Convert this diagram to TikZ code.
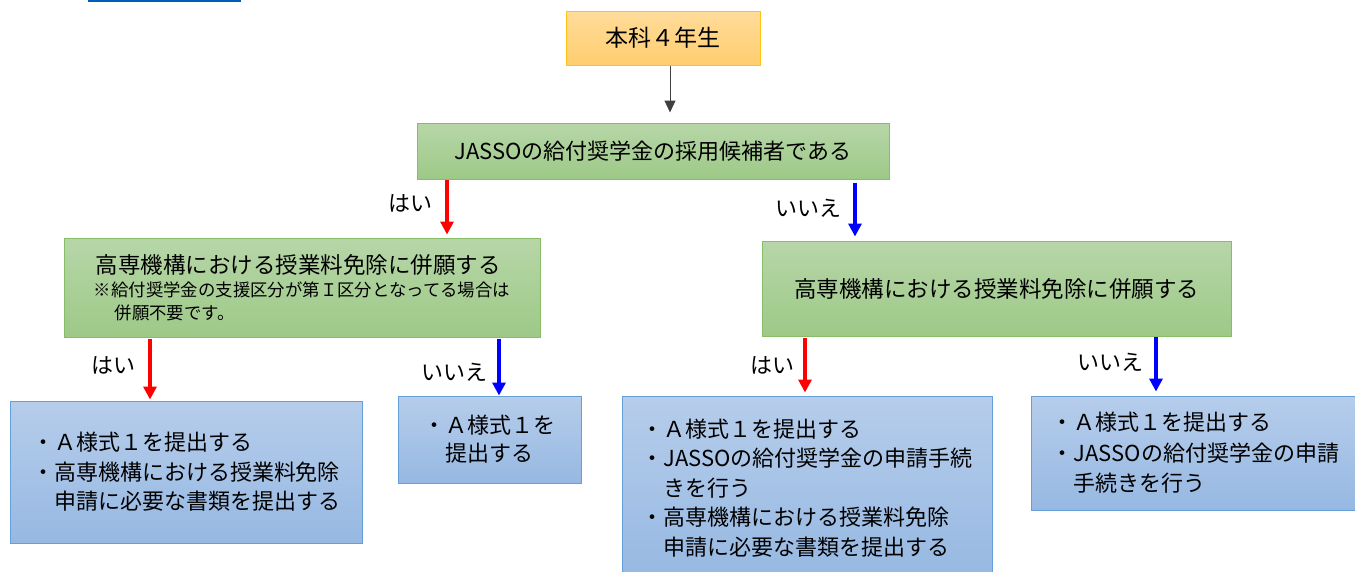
\documentclass[tikz,border=0pt]{standalone}
\usepackage{fontspec}
\setmainfont{Noto Sans CJK JP}
\usetikzlibrary{arrows.meta}
\definecolor{gtop}{RGB}{183,214,168}
\definecolor{gbot}{RGB}{157,201,135}
\definecolor{gline}{RGB}{135,188,105}
\definecolor{btop}{RGB}{182,205,235}
\definecolor{bbot}{RGB}{150,184,226}
\definecolor{bline}{RGB}{100,160,215}
\definecolor{otop}{RGB}{255,220,155}
\definecolor{obot}{RGB}{255,205,110}
\definecolor{oline}{RGB}{255,195,20}
\definecolor{linkblue}{RGB}{0,92,185}
\tikzset{
  gbox/.style={draw=gline, line width=1pt, top color=gtop, bottom color=gbot, inner sep=0pt, align=center},
  bbox/.style={draw=bline, line width=1pt, top color=btop, bottom color=bbot, inner sep=0pt, align=left, font=\fontsize{22}{29.5}\selectfont},
  obox/.style={draw=oline, line width=1pt, top color=otop, bottom color=obot, inner sep=0pt},
  lbl/.style={inner sep=0pt, font=\fontsize{22}{26}\selectfont},
  redarrow/.style={draw=red, line width=3.5pt, -{Triangle[width=13pt,length=13pt]}},
  bluearrow/.style={draw=blue, line width=3.5pt, -{Triangle[width=13pt,length=13pt]}},
  blackarrow/.style={draw=black!75, line width=1pt, -{Triangle[width=11pt,length=12pt]}}
}
\begin{document}
\begin{tikzpicture}[x=1pt,y=-1pt]
\useasboundingbox (0,0) rectangle (1355,571);
\clip (0,0) rectangle (1355,571);
\fill[linkblue] (88,0) rectangle (241,2);
% boxes
\node[obox, minimum width=194pt, minimum height=54pt, font=\fontsize{23}{26}\selectfont] (top) at (663,38) {本科４年生};
\node[gbox, minimum width=472pt, minimum height=56pt, font=\fontsize{22}{26}\selectfont] (jasso) at (653,151) {JASSOの給付奨学金の採用候補者である};
\node[gbox, align=left, minimum width=476pt, minimum height=99pt, font=\fontsize{17.4}{23}\selectfont] (lg) at (302,287.5)
  {\hspace{2pt}{\fontsize{22.5}{26}\selectfont 高専機構における授業料免除に併願する}\\
   ※給付奨学金の支援区分が第Ｉ区分となってる場合は\\
   \hspace{1.2em}併願不要です。};
\node[gbox, minimum width=469pt, minimum height=95pt, font=\fontsize{22.5}{26}\selectfont] (rg) at (996.5,288.5) {高専機構における授業料免除に併願する};
\node[bbox, minimum width=352pt, minimum height=142pt] (ll) at (186,472)
  {・Ａ様式１を提出する\\
   ・高専機構における授業料免除\\
   \hspace{1em}申請に必要な書類を提出する};
\node[bbox, minimum width=183pt, minimum height=87pt, font=\fontsize{22}{28}\selectfont] (lr) at (489.5,439.5)
  {・Ａ様式１を\\
   \hspace{1em}提出する};
\node[bbox, minimum width=370pt, minimum height=184pt] (rl) at (807,488)
  {・Ａ様式１を提出する\\
   ・JASSOの給付奨学金の申請手続\\
   \hspace{1em}きを行う\\
   ・高専機構における授業料免除\\
   \hspace{1em}申請に必要な書類を提出する};
\node[bbox, minimum width=329pt, minimum height=114pt, font=\fontsize{22}{30.5}\selectfont] (rr) at (1195.5,453)
  {・Ａ様式１を提出する\\
   ・JASSOの給付奨学金の申請\\
   \hspace{1em}手続きを行う};
% labels
\node[lbl] (hai1) at (410,203) {はい};
\node[lbl] (iie1) at (808,208) {いいえ};
\node[lbl] (hai2) at (113,365) {はい};
\node[lbl] (iie2) at (454,372) {いいえ};
\node[lbl] (hai3) at (772,365) {はい};
\node[lbl] (iie3) at (1110,362) {いいえ};
% connectors
\draw[blackarrow, shorten >=10pt] (top.south -| 670,0) -- (jasso.north -| 670,0);
\draw[redarrow, shorten >=3pt] (jasso.south -| 447,0) -- (lg.north -| 447,0);
\draw[bluearrow, shorten <=3pt, shorten >=4pt] (jasso.south -| 855,0) -- (rg.north -| 855,0);
\draw[redarrow, shorten <=1pt, shorten >=1pt] (lg.south -| 150,0) -- (ll.north -| 150,0);
\draw[bluearrow, shorten <=1pt] (lg.south -| 499,0) -- (lr.north -| 499,0);
\draw[redarrow, shorten <=1pt, shorten >=3pt] (rg.south -| 805,0) -- (rl.north -| 805,0);
\draw[bluearrow, shorten >=4pt] (rg.south -| 1156,0) -- (rr.north -| 1156,0);
\end{tikzpicture}
\end{document}
